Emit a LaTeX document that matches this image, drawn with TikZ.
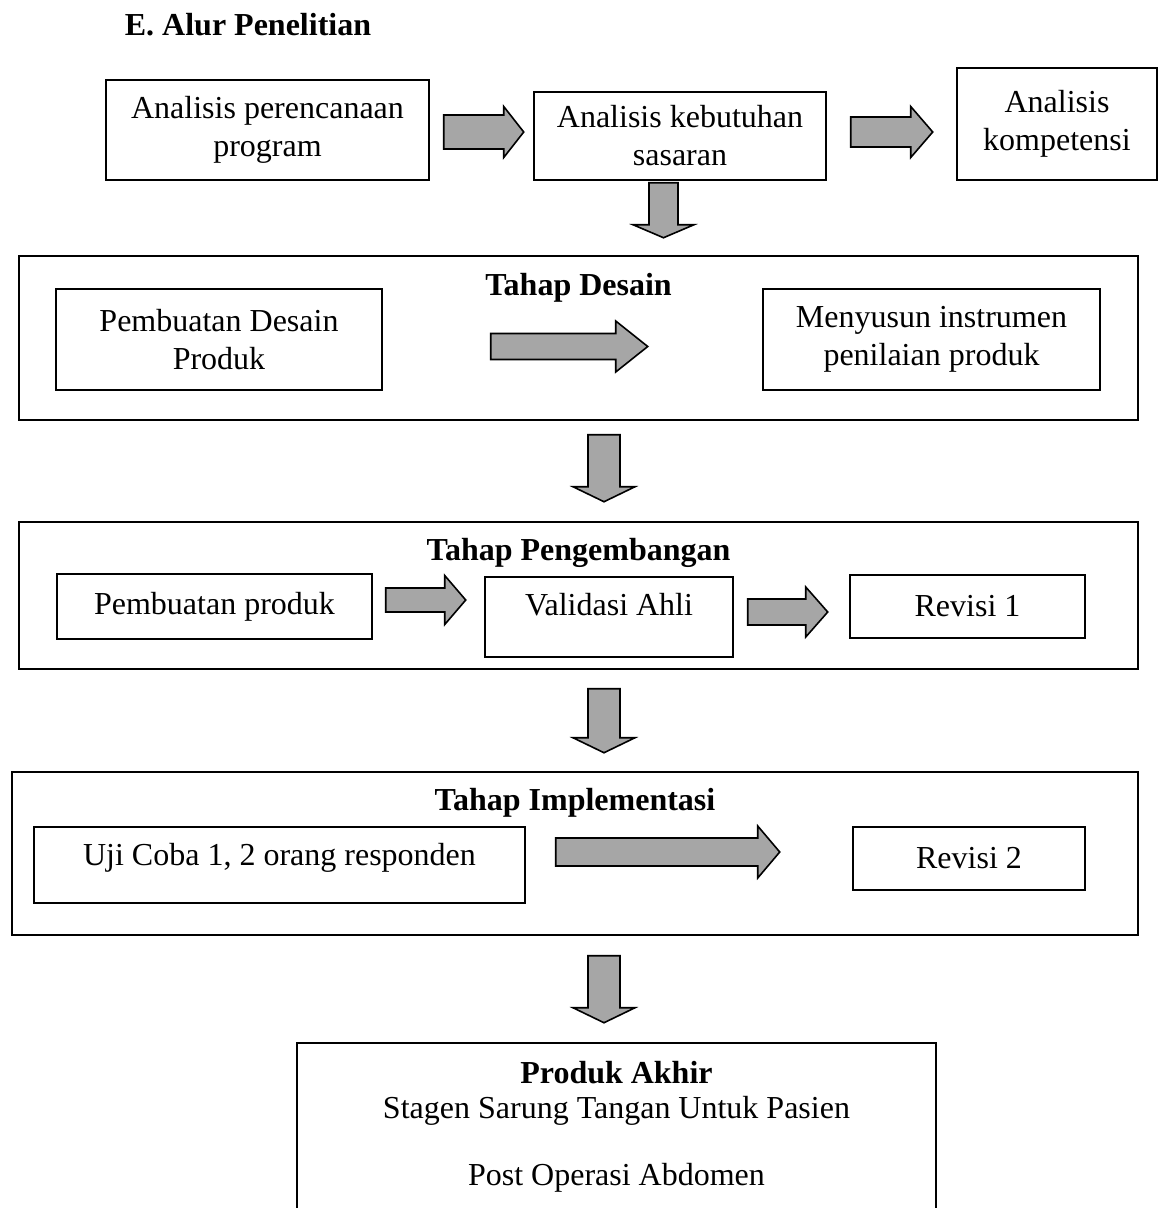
\documentclass[tikz,border=0pt]{standalone}
\usepackage{fontspec}
\setmainfont{Liberation Serif}
\usepackage{tikz}
\usetikzlibrary{calc}
\definecolor{arrowgray}{HTML}{A6A6A6}
\tikzset{
  box/.style={draw, line width=0.55pt, inner sep=0pt, align=center, font=\fontsize{12}{14.25}\selectfont},
  wh/.style 2 args={minimum width={#1*0.375pt}, minimum height={#2*0.375pt}},
  head/.style={inner sep=0pt, font=\fontsize{12}{14.25}\selectfont\bfseries},
  fatarrow/.style={draw, line width=0.6pt, fill=arrowgray, line join=miter}
}
\newcommand{\blockarrow}[6][0]{%
  \draw[fatarrow, shift={#2}, rotate=#1]
    (0,-#4) -- (#3-#6,-#4) -- (#3-#6,-#5) -- (#3,0) -- (#3-#6,#5) -- (#3-#6,#4) -- (0,#4) -- cycle;}

\begin{document}
\begin{tikzpicture}[x=0.375pt, y=-0.375pt]
\useasboundingbox (0,0) rectangle (1158,1208);
\node[head] (title) at (248,25) {E. Alur Penelitian};

\node[box, wh={323}{100}] (plan) at (267.5,130) {Analisis perencanaan\\program};
\node[box, wh={292}{88}] (need) at (680,136) {Analisis kebutuhan\\sasaran};
\node[box, wh={200}{112}] (comp) at (1057,124) {Analisis\\kompetensi};
\blockarrow{($(plan.east)+(14,2)$)}{80}{17}{25.5}{20}
\blockarrow{($(need.east)+(24,-4)$)}{82}{15}{25.5}{22}
\blockarrow[-90]{($(need.south)+(-16.5,2)$)}{55}{14.5}{30.5}{13}

\node[box, wh={1119}{164}] (design) at (578.5,338) {};
\node[head] (designT) at ($(design.north)+(0,33)$) {Tahap Desain};
\node[box, wh={326}{101}] (mkdesign) at (219,339.5) {Pembuatan Desain\\Produk};
\node[box, wh={337}{101}] (instr) at (931.5,339.5) {Menyusun instrumen\\penilaian produk};
\blockarrow{($(mkdesign.east)+(108,7)$)}{157}{13}{25.5}{32}
\blockarrow[-90]{($(design.south)+(25.5,14)$)}{67}{16}{31}{15}

\node[box, wh={1119}{147}] (dev) at (578.5,595.5) {};
\node[head] (devT) at ($(dev.north)+(0,32)$) {Tahap Pengembangan};
\node[box, wh={315}{65}] (mkprod) at (214.5,606.5) {Pembuatan produk};
\node[box, wh={248}{80}, text height=8pt, text depth=9.5pt] (valid) at (609,617) {Validasi Ahli};
\node[box, wh={235}{63}] (rev1) at (967.5,606.5) {Revisi 1};
\blockarrow{($(mkprod.east)+(13,-6.5)$)}{80}{12}{24.5}{21}
\blockarrow{($(valid.east)+(14,-5)$)}{80}{13}{25}{22}
\blockarrow[-90]{($(dev.south)+(25.5,19)$)}{64}{16}{31}{15}

\node[box, wh={1126}{163}] (impl) at (575,853.5) {};
\node[head] (implT) at ($(impl.north)+(0,32)$) {Tahap Implementasi};
\node[box, wh={491}{76}, text height=8pt, text depth=8pt] (trial) at (279.5,865) {Uji Coba 1, 2 orang responden};
\node[box, wh={232}{63}] (rev2) at (969,858.5) {Revisi 2};
\blockarrow{($(trial.east)+(30,-13)$)}{224}{14}{26}{22}
\blockarrow[-90]{($(impl.south)+(29,20)$)}{67}{16}{31}{15}

\node[box, wh={639}{168}] (final) at (616.5,1127) {\textbf{Produk Akhir}\\[-1.1pt]Stagen Sarung Tangan Untuk Pasien\\[10.9pt]Post Operasi Abdomen};
\end{tikzpicture}
\end{document}
